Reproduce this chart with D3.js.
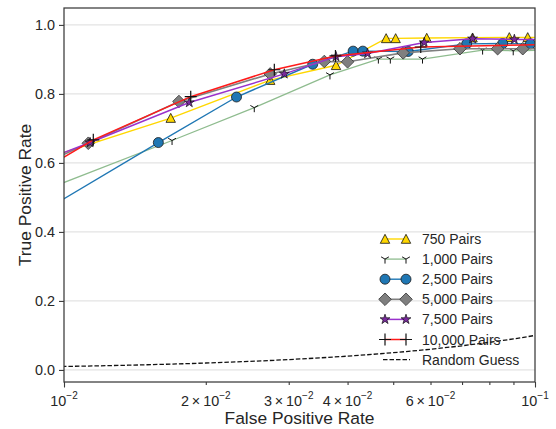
<!DOCTYPE html>
<html><head><meta charset="utf-8">
<script src="https://cdn.jsdelivr.net/npm/d3@7"></script>
<style>
body{margin:0;background:#fff;}
svg{display:block;font-family:"Liberation Sans",Arial,sans-serif;}
</style></head><body>
<svg id="c" width="556" height="429"></svg>
<script>
// ---------------- data ----------------
const seriesNames = ["750 Pairs","1,000 Pairs","2,500 Pairs","5,000 Pairs","7,500 Pairs","10,000 Pairs"];
const fpr750   = [0.009, 0.01685, 0.0274, 0.0378, 0.0483, 0.0506, 0.0589, 0.0737, 0.0882, 0.0965, 0.105];
const tpr750   = [0.610, 0.730, 0.840, 0.883, 0.961, 0.961, 0.962, 0.963, 0.964, 0.964, 0.964];
const fpr1000  = [0.009, 0.01696, 0.02535, 0.0367, 0.0465, 0.0493, 0.0577, 0.0774, 0.0899, 0.105];
const tpr1000  = [0.519, 0.665, 0.760, 0.855, 0.901, 0.901, 0.901, 0.927, 0.925, 0.927];
const fpr2500  = [0.009, 0.01586, 0.02324, 0.03373, 0.0411, 0.0431, 0.0538, 0.0716, 0.0854, 0.0978, 0.105];
const tpr2500  = [0.459, 0.659, 0.791, 0.886, 0.924, 0.924, 0.923, 0.945, 0.946, 0.945, 0.945];
const fpr5000  = [0.009, 0.01126, 0.01754, 0.0274, 0.0357, 0.0400, 0.0525, 0.0693, 0.0833, 0.0942, 0.105];
const tpr5000  = [0.596, 0.657, 0.778, 0.858, 0.894, 0.893, 0.919, 0.931, 0.931, 0.931, 0.931];
const fpr7500  = [0.009, 0.01136, 0.01845, 0.02936, 0.0378, 0.0441, 0.0582, 0.0737, 0.0904, 0.105];
const tpr7500  = [0.606, 0.659, 0.775, 0.858, 0.908, 0.917, 0.949, 0.960, 0.958, 0.958];
const fpr10000 = [0.009, 0.01154, 0.01858, 0.02796, 0.0377, 0.0572, 0.105];
const tpr10000 = [0.580, 0.667, 0.792, 0.870, 0.910, 0.936, 0.943];
const randomFpr = [0.009, 0.015, 0.02, 0.03, 0.04, 0.05, 0.06, 0.07, 0.08, 0.09, 0.1, 0.105];
const randomTpr = [0.009, 0.015, 0.02, 0.03, 0.04, 0.05, 0.06, 0.07, 0.08, 0.09, 0.1, 0.105];
const randomName = "Random Guess";

const yTickValues = [0, 0.2, 0.4, 0.6, 0.8, 1.0];
const xTickValues = [0.01,0.02,0.03,0.04,0.05,0.06,0.07,0.08,0.09,0.1];
const xLabelValues = [0.01, 0.02, 0.03, 0.04, 0.06, 0.1];
const xLabelMant   = ["", "2\u2009×\u2009", "3\u2009×\u2009", "4\u2009×\u2009", "6\u2009×\u2009", ""];
const xLabelExp    = ["\u22122","\u22122","\u22122","\u22122","\u22122","\u22121"];
const xTitle = "False Positive Rate";
const yTitle = "True Positive Rate";

// ---------------- layout ----------------
const L = 64, R = 535, T = 8, B = 382;
const svg = d3.select("#c");
const x = d3.scaleLog().domain([0.01, 0.1]).range([L, R]);
const y = d3.scaleLinear().domain([-0.035, 1.049]).range([B, T]);

// grid
svg.append("g").selectAll("line").data(yTickValues).join("line")
  .attr("x1", L).attr("x2", R).attr("y1", d => y(d)).attr("y2", d => y(d))
  .attr("stroke", "#dcdcdc").attr("stroke-width", 1);

// clip
svg.append("clipPath").attr("id","clip").append("rect")
  .attr("x", L).attr("y", T).attr("width", R - L).attr("height", B - T);
const plot = svg.append("g").attr("clip-path","url(#clip)");

// marker paths
function starPath(Ro){
  const ri = Ro*0.382; let p = "";
  for(let i=0;i<10;i++){
    const r = i%2===0 ? Ro : ri;
    const a = -Math.PI/2 + i*Math.PI/5;
    p += (i===0?"M":"L") + (r*Math.cos(a)).toFixed(2) + "," + (r*Math.sin(a)).toFixed(2);
  }
  return p + "Z";
}
const markers = [
  {d:"M0,-4.7L4.7,4.3L-4.7,4.3Z", fill:"#FFD700", stroke:"#111", sw:0.8},
  {d:"M0,0V4.5M0,0L-3.9,-2.25M0,0L3.9,-2.25", fill:"none", stroke:"#111", sw:1.0},
  {d:"M5,0A5,5 0 1,1 -5,0A5,5 0 1,1 5,0Z", fill:"#1f77b4", stroke:"#1a1a1a", sw:0.8},
  {d:"M0,-6.3L6.3,0L0,6.3L-6.3,0Z", fill:"#7f7f7f", stroke:"#333", sw:0.8},
  {d:starPath(5.2), fill:"#7a2a9e", stroke:"#111", sw:0.7},
  {d:"M-6,0H6M0,-6V6", fill:"none", stroke:"#111", sw:1.2}
];
const lineColors = ["#FFD700", "#8fbc8f", "#1f77b4", "#808080", "#9932CC", "#ff1a1a"];
const lineWidths = [1.4, 1.3, 1.4, 1.6, 1.5, 1.5];
const fprs = [fpr750, fpr1000, fpr2500, fpr5000, fpr7500, fpr10000];
const tprs = [tpr750, tpr1000, tpr2500, tpr5000, tpr7500, tpr10000];

const line = d3.line().x(d => x(d[0])).y(d => y(d[1]));

// random guess
plot.append("path").datum(d3.zip(randomFpr, randomTpr))
  .attr("d", d3.line().x(d => x(d[0])).y(d => y(d[1])).curve(d3.curveMonotoneX))
  .attr("fill","none").attr("stroke","#111").attr("stroke-width",1.3)
  .attr("stroke-dasharray","4.5,2");

seriesNames.forEach((name, i) => {
  const pts = d3.zip(fprs[i], tprs[i]);
  plot.append("path").datum(pts).attr("d", line)
    .attr("fill","none").attr("stroke", lineColors[i]).attr("stroke-width", lineWidths[i]);
  const m = markers[i];
  plot.append("g").selectAll("path").data(pts).join("path")
    .attr("transform", d => `translate(${x(d[0])},${y(d[1])})`)
    .attr("d", m.d).attr("fill", m.fill).attr("stroke", m.stroke).attr("stroke-width", m.sw);
});

// spines
svg.append("rect").attr("x", L).attr("y", T).attr("width", R-L).attr("height", B-T)
  .attr("fill","none").attr("stroke","#3a3a3a").attr("stroke-width",1.25);

// y axis
const gy = svg.append("g").attr("transform", `translate(${L},0)`)
  .call(d3.axisLeft(y).tickValues(yTickValues).tickFormat(d3.format(".1f")).tickSize(5).tickPadding(4));
gy.select(".domain").remove();
gy.selectAll(".tick line").attr("stroke","#3a3a3a").attr("stroke-width",1.1);
gy.selectAll(".tick text").attr("font-size","14.4px").attr("fill","#262626")
  .attr("font-family","'Liberation Sans',Arial,sans-serif");

// x axis
const gx = svg.append("g").attr("transform", `translate(0,${B})`)
  .call(d3.axisBottom(x).tickValues(xTickValues).tickFormat(() => "").tickSize(5));
gx.select(".domain").remove();
gx.selectAll(".tick line").attr("stroke","#3a3a3a").attr("stroke-width",1.1)
  .attr("y2", d => (d === 0.01 || d === 0.1) ? 5.5 : 3);
gx.selectAll(".tick text").remove();
const xl = svg.append("g").selectAll("text").data(xLabelValues).join("text")
  .attr("x", d => x(d)).attr("y", 406).attr("text-anchor","middle")
  .attr("font-size","14.4px").attr("fill","#262626");
xl.append("tspan").text((d,i) => xLabelMant[i] + "10");
xl.append("tspan").attr("dy", -7).attr("font-size","10px").text((d,i) => xLabelExp[i]);

// titles
svg.append("text").attr("x", (L+R)/2).attr("y", 424).attr("text-anchor","middle")
  .attr("font-size","17.4px").attr("fill","#262626").text(xTitle);
svg.append("text").attr("transform", `translate(31,${(T+B)/2}) rotate(-90)`)
  .attr("text-anchor","middle").attr("font-size","17.4px").attr("fill","#262626").text(yTitle);

// legend
const lg = svg.append("g");
const ly0 = 239, ldy = 20.1, hx1 = 385, hx2 = 406, tx = 422;
seriesNames.forEach((name, i) => {
  const yy = ly0 + i*ldy;
  lg.append("line").attr("x1", hx1).attr("x2", hx2).attr("y1", yy).attr("y2", yy)
    .attr("stroke", lineColors[i]).attr("stroke-width", lineWidths[i]);
  const m = markers[i];
  [hx1, hx2].forEach(hx => lg.append("path").attr("transform", `translate(${hx},${yy})`)
    .attr("d", m.d).attr("fill", m.fill).attr("stroke", m.stroke).attr("stroke-width", m.sw));
  lg.append("text").attr("x", tx).attr("y", yy).attr("dy","0.36em")
    .attr("font-size","14px").attr("fill","#262626").text(name);
});
{
  const yy = ly0 + 6*ldy;
  lg.append("line").attr("x1", 383).attr("x2", 410).attr("y1", yy).attr("y2", yy)
    .attr("stroke","#111").attr("stroke-width",1.3).attr("stroke-dasharray","4.5,2");
  lg.append("text").attr("x", tx).attr("y", yy).attr("dy","0.36em")
    .attr("font-size","14px").attr("fill","#262626").text(randomName);
}
</script>
</body></html>
